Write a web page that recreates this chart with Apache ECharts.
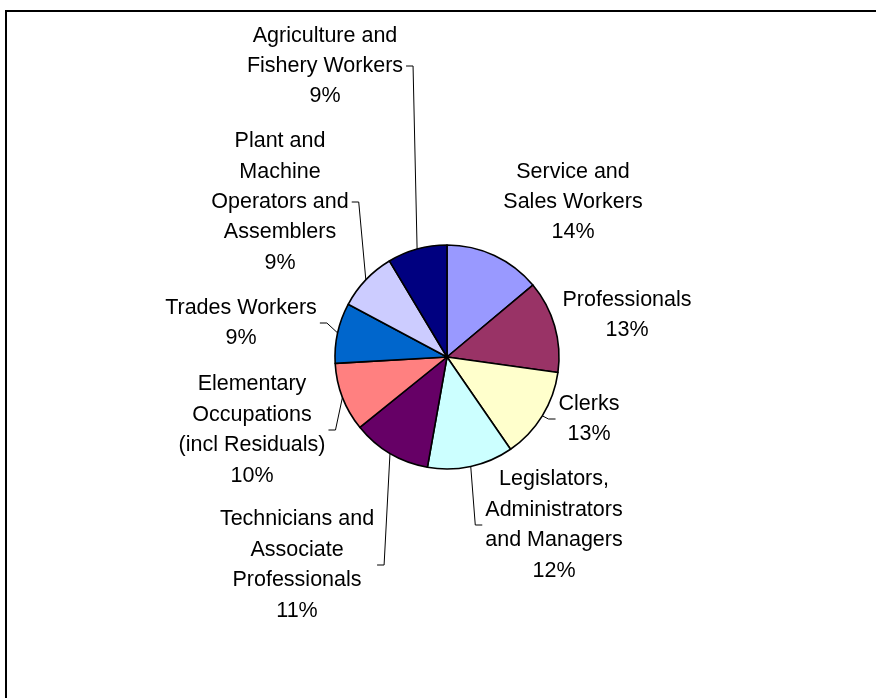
<!DOCTYPE html>
<html>
<head>
<meta charset="utf-8">
<script src="https://cdn.jsdelivr.net/npm/echarts@6/dist/echarts.min.js"></script>
<style>
  html, body { margin: 0; padding: 0; background: #fff; overflow: hidden; }
  #frame { position: absolute; left: 5px; top: 10px; width: 1000px; height: 1000px; border: 2px solid #000; }
  #main { position: absolute; left: 0; top: 0; width: 876px; height: 698px; }
</style>
</head>
<body>
<div id="frame"></div>
<div id="main"></div>
<script>
// categories, clockwise from 12 o'clock
var categories = [
  'Service and\nSales Workers',
  'Professionals',
  'Clerks',
  'Legislators,\nAdministrators\nand Managers',
  'Technicians and\nAssociate\nProfessionals',
  'Elementary\nOccupations\n(incl Residuals)',
  'Trades Workers',
  'Plant and\nMachine\nOperators and\nAssemblers',
  'Agriculture and\nFishery Workers'
];
// share of employment (%)
var values = [13.9, 13.3, 13.2, 12.4, 11.4, 9.9, 8.7, 8.6, 8.6];
var colors = ['#9999FF', '#993366', '#FFFFCC', '#CCFFFF', '#660066', '#FF8080', '#0066CC', '#CCCCFF', '#000080'];

// label centre positions (px) and whether a leader line is drawn
var labelPos = [
  [573, 202, false],
  [627, 315, false],
  [589, 419, true],
  [554, 525, true],
  [297, 565, true],
  [252, 430, true],
  [241, 323, true],
  [280, 202, true],
  [325, 66, true]
];

var chart = echarts.init(document.getElementById('main'));

var data = categories.map(function (name, i) {
  return {
    name: name,
    value: values[i],
    itemStyle: { color: colors[i] },
    labelLine: { show: labelPos[i][2] }
  };
});

chart.setOption({
  animation: false,
  series: [{
    type: 'pie',
    center: [447, 357],
    radius: 112,
    startAngle: 90,
    clockwise: true,
    avoidLabelOverlap: false,
    percentPrecision: 0,
    data: data,
    itemStyle: { borderColor: '#000', borderWidth: 1.6 },
    label: {
      show: true,
      position: 'outside',
      formatter: '{b}\n{d}%',
      fontFamily: 'Liberation Sans, Arial, sans-serif',
      fontSize: 21.5,
      lineHeight: 30.4,
      color: '#000',
      align: 'center'
    },
    labelLine: {
      show: true,
      length: 5,
      length2: 5,
      lineStyle: { color: '#000', width: 1 }
    },
    labelLayout: function (params) {
      var p = labelPos[params.dataIndex];
      var res = { x: p[0], y: p[1], align: 'center', verticalAlign: 'middle' };
      if (p[2] && params.labelLinePoints) {
        var a = params.labelLinePoints[0];
        var w = params.labelRect.width;
        var side = a[0] < p[0] ? -1 : 1;
        var ex = p[0] + side * (w / 2 + 3);
        res.labelLinePoints = [a, [ex + side * 7, p[1]], [ex, p[1]]];
      }
      return res;
    },
    emphasis: { disabled: true }
  }]
});
</script>
</body>
</html>
